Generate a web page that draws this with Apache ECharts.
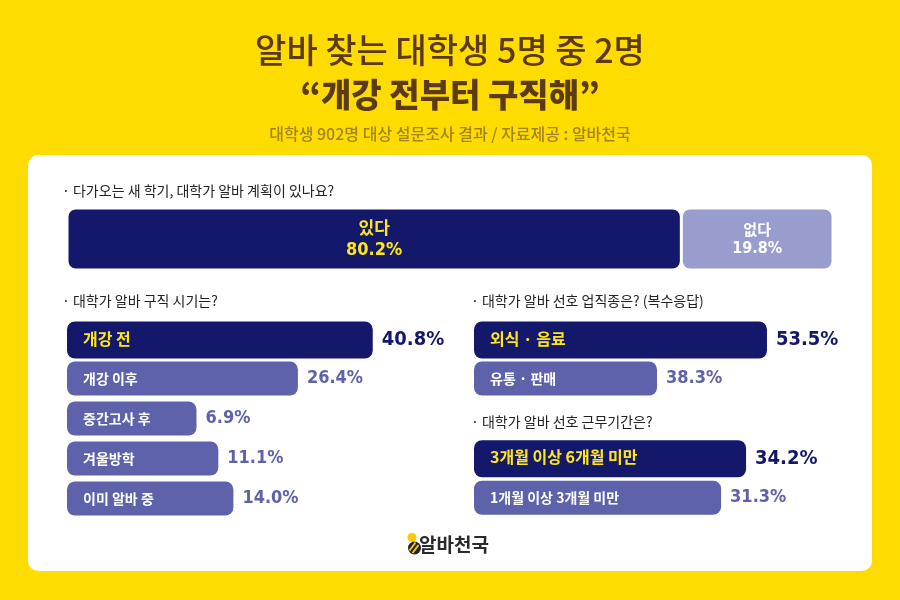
<!DOCTYPE html>
<html><head><meta charset="utf-8">
<script src="https://cdn.jsdelivr.net/npm/echarts@6/dist/echarts.min.js"></script>
<style>html,body{margin:0;padding:0;background:#FFDC00}#c{width:900px;height:600px}</style>
</head><body><div id="c"></div>
<script>
// ---- text ----
const titleLine1 = '알바 찾는 대학생 5명 중 2명';
const titleLine2 = '“개강 전부터 구직해”';
const subtitle = '대학생 902명 대상 설문조사 결과 / 자료제공 : 알바천국';
const brand = '알바천국';

// ---- data ----
const q1 = '· 다가오는 새 학기, 대학가 알바 계획이 있나요?';
const planCategories = ['있다', '없다'];
const planValues = [80.2, 19.8];

const q2 = '· 대학가 알바 구직 시기는?';
const timingCategories = ['개강 전', '개강 이후', '중간고사 후', '겨울방학', '이미 알바 중'];
const timingValues = [40.8, 26.4, 6.9, 11.1, 14.0];

const q3 = '· 대학가 알바 선호 업직종은? (복수응답)';
const jobCategories = ['외식 · 음료', '유통 · 판매'];
const jobValues = [53.5, 38.3];

const q4 = '· 대학가 알바 선호 근무기간은?';
const periodCategories = ['3개월 이상 6개월 미만', '1개월 이상 3개월 미만'];
const periodValues = [34.2, 31.3];

// ---- style ----
const NAVY = '#14186A', MID = '#5D62AA', LIGHT = '#989DCE', YEL = '#FFE61A';
const BROWN = '#5B3A14', SUB = '#A08420';
const KR = "'Noto Sans CJK KR', sans-serif";
const NUM = "'DejaVu Sans Condensed', 'Liberation Sans Narrow', 'Noto Sans CJK KR', sans-serif";

const chart = echarts.init(document.getElementById('c'));

function groupAxes(gi, cats, min, max) {
  return {
    x: { gridIndex: gi, type: 'value', min: min, max: max, startValue: min, show: false },
    y: {
      gridIndex: gi, type: 'category', data: cats, inverse: true, z: 10,
      axisLine: { show: false }, axisTick: { show: false }, splitLine: { show: false },
      axisLabel: {
        inside: true, margin: 16,
        formatter: (v, i) => i === 0 ? '{h|' + v + '}' : '{n|' + v + '}',
        rich: {
          h: { color: YEL, fontSize: 16, fontWeight: 'bold', fontFamily: KR },
          n: { color: '#fff', fontSize: 14, fontWeight: 'bold', fontFamily: KR }
        }
      }
    }
  };
}

function groupSeries(gi, values) {
  const hi = values.map((v, i) => i === 0 ? v : '-');
  const rest = values.map((v, i) => i === 0 ? '-' : v);
  const fmt = p => Number(p.value).toFixed(1) + '%';
  return [
    { type: 'bar', xAxisIndex: gi, yAxisIndex: gi, data: hi, barWidth: 37, barGap: '-100%',
      itemStyle: { color: NAVY, borderRadius: 8 },
      label: { show: true, position: 'right', distance: 9, formatter: fmt, color: NAVY,
               fontFamily: NUM, fontWeight: 'bold', fontSize: 20 } },
    { type: 'bar', xAxisIndex: gi, yAxisIndex: gi, data: rest, barWidth: 34, barGap: '-100%',
      itemStyle: { color: MID, borderRadius: 8 },
      label: { show: true, position: 'right', distance: 9, formatter: fmt, color: MID,
               fontFamily: NUM, fontWeight: 'bold', fontSize: 18 } }
  ];
}

const gTiming = groupAxes(1, timingCategories, -18, 50);
const gJob = groupAxes(2, jobCategories, 13, 60);
const gPeriod = groupAxes(3, periodCategories, 2.6, 40);

const planSeries = planCategories.map((c, i) => ({
  type: 'bar', name: c, stack: 'plan', xAxisIndex: 0, yAxisIndex: 0,
  data: [planValues[i]], barWidth: 62,
  itemStyle: { color: i === 0 ? NAVY : LIGHT, borderRadius: 8, borderColor: '#fff', borderWidth: 1.5 },
  label: {
    show: true, position: 'inside', lineHeight: 22,
    formatter: p => '{k|' + p.seriesName + '}\n{n|' + p.value.toFixed(1) + '%}',
    rich: i === 0 ? {
      k: { color: YEL, fontSize: 17, fontWeight: 'bold', fontFamily: KR, lineHeight: 22 },
      n: { color: YEL, fontSize: 18, fontWeight: 'bold', fontFamily: NUM, lineHeight: 22 }
    } : {
      k: { color: '#fff', fontSize: 15, fontWeight: 'bold', fontFamily: KR, lineHeight: 20 },
      n: { color: '#fff', fontSize: 16, fontWeight: 'bold', fontFamily: NUM, lineHeight: 20 }
    }
  }
}));

function txt(text, x, y, font, fill, align) {
  return { type: 'text', silent: true, style: { text: text, x: x, y: y, font: font, fill: fill,
           textAlign: align || 'left', textVerticalAlign: 'middle' } };
}

const option = {
  backgroundColor: '#FFDC00',
  animation: false,
  grid: [
    { left: 67, top: 208, width: 766, height: 62 },
    { left: 67, top: 318.5, width: 353.6, height: 200 },
    { left: 474, top: 318.5, width: 340, height: 80 },
    { left: 474, top: 437, width: 322, height: 81 }
  ],
  xAxis: [
    { gridIndex: 0, type: 'value', min: 0, max: 100, show: false },
    gTiming.x, gJob.x, gPeriod.x
  ],
  yAxis: [
    { gridIndex: 0, type: 'category', data: ['계획'], show: false },
    gTiming.y, gJob.y, gPeriod.y
  ],
  series: [].concat(planSeries, groupSeries(1, timingValues), groupSeries(2, jobValues), groupSeries(3, periodValues)),
  graphic: [
    { type: 'rect', z: -10, silent: true, shape: { x: 28, y: 155, width: 844, height: 416, r: 10 }, style: { fill: '#fff' } },
    txt(titleLine1, 450, 50, "500 34px " + KR, BROWN, 'center'),
    txt(titleLine2, 450, 94, "900 33px " + KR, BROWN, 'center'),
    txt(subtitle, 450, 134, "500 16px " + KR, SUB, 'center'),
    txt(q1, 62, 191, "400 14px " + KR, '#222', 'left'),
    txt(q2, 62, 301, "400 14px " + KR, '#222', 'left'),
    txt(q3, 471, 301, "400 14px " + KR, '#222', 'left'),
    txt(q4, 471, 422, "400 14px " + KR, '#222', 'left'),
    { type: 'circle', silent: true, shape: { cx: 412, cy: 537.5, r: 4.5 }, style: { fill: '#FFC800' } },
    { type: 'circle', silent: true, shape: { cx: 414.5, cy: 548, r: 6.5 }, style: { fill: '#222' } },
    { type: 'line', silent: true, shape: { x1: 409.5, y1: 550.5, x2: 415.5, y2: 542.5 }, style: { stroke: '#FFC800', lineWidth: 1.8 } },
    { type: 'line', silent: true, shape: { x1: 412.5, y1: 553, x2: 418.5, y2: 545 }, style: { stroke: '#FFC800', lineWidth: 1.8 } },
    txt(brand, 419, 545, "700 19px " + KR, '#2a2a2a', 'left')
  ]
};
chart.setOption(option);
</script></body></html>
